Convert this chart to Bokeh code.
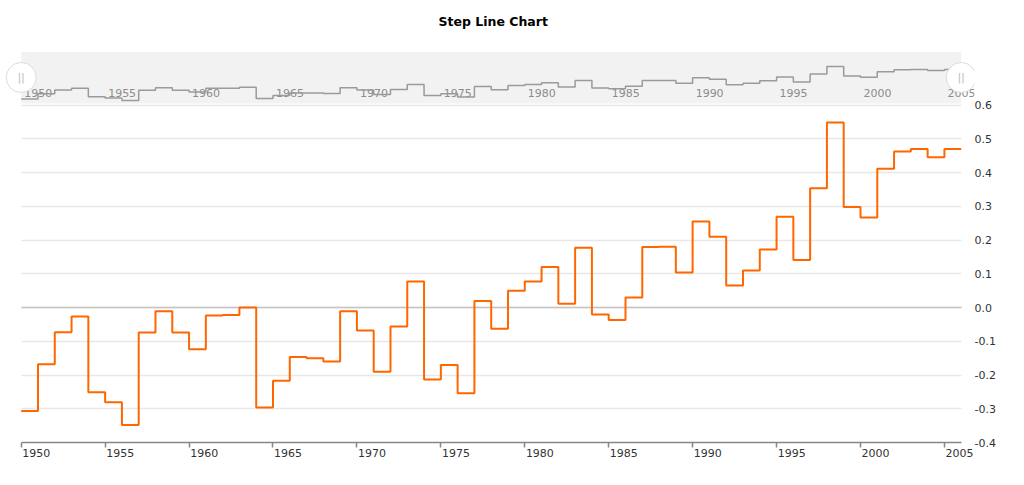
from bokeh.plotting import figure
from bokeh.models import (Range1d, FixedTicker, CustomJSTickFormatter, BoxAnnotation,
                          Title, Grid, PrintfTickFormatter)
from bokeh.core.properties import value
from bokeh.embed import file_html
from bokeh.resources import INLINE

# ---- data ----
years = list(range(1950, 2006))
values = [-0.307, -0.168, -0.073, -0.027, -0.251, -0.281, -0.348, -0.074, -0.011, -0.074,
          -0.124, -0.024, -0.022, 0.0, -0.296, -0.217, -0.147, -0.150, -0.160, -0.011,
          -0.068, -0.190, -0.056, 0.077, -0.213, -0.170, -0.254, 0.019, -0.063, 0.050,
          0.077, 0.120, 0.011, 0.177, -0.021, -0.037, 0.030, 0.179, 0.180, 0.104,
          0.255, 0.210, 0.065, 0.110, 0.172, 0.269, 0.141, 0.353, 0.548, 0.298,
          0.267, 0.411, 0.462, 0.470, 0.445, 0.470]
tick_years = list(range(1950, 2006, 5))
tick_labels = [str(y) for y in tick_years]
y_ticks = [round(i * 0.1, 1) for i in range(-4, 7)]

FONT = "DejaVu Sans"
x_end = years[-1] + 1
step_x = years + [x_end]
step_y = values + [values[-1]]

# ---- layout constants (pixels) ----
plot_px = 940.0                       # width of the data area (1950..2006)
x_ppu = plot_px / (x_end - years[0])  # px per year
pad_left_px, pad_right_px = 18.7, 13.3
frame_w = int(round(plot_px + pad_left_px + pad_right_px))
x_start = years[0] - pad_left_px / x_ppu
x_stop = x_start + frame_w / x_ppu

y_lo = -0.4
y_ppu = 337.5
frame_h = 391

p = figure(frame_width=frame_w, frame_height=frame_h,
           x_range=Range1d(x_start, x_stop),
           y_range=Range1d(y_lo, y_lo + frame_h / y_ppu),
           y_axis_location="right",
           output_backend="svg", toolbar_location=None,
           min_border_left=2, min_border_top=51, min_border_right=5, min_border_bottom=5)

# scrollbar mapping: -0.4 -> 340px above chart bottom, 37.95 px/unit
sc_ppu = 37.95
sc_lo = y_lo - 340 / sc_ppu
sc_hi = sc_lo + frame_h / sc_ppu
p.extra_y_ranges = {"scroll": Range1d(sc_lo, sc_hi)}

p.outline_line_color = None
p.background_fill_color = "white"
p.border_fill_color = "white"

# spacer between the title and the chart area, then the title
p.add_layout(Title(text=" ", text_font_size="1px", standoff=18), "above")
p.add_layout(Title(text="Step Line Chart", align="left", offset=436,
                   vertical_align="top", standoff=0,
                   text_font_size="12.5px", text_font=FONT, text_font_style="bold",
                   text_color="#000000"), "above")

# x axis (bounded to the data area)
xa = p.xaxis[0]
xa.bounds = (years[0], x_end)
xa.ticker = FixedTicker(ticks=[y + 0.9 for y in tick_years], minor_ticks=tick_years)
xa.formatter = CustomJSTickFormatter(code="return Math.floor(tick).toString();")
xa.major_tick_line_color = None
xa.major_tick_out = 0
xa.major_tick_in = 0
xa.minor_tick_out = 5
xa.minor_tick_in = 0
xa.minor_tick_line_color = "#888888"
xa.minor_tick_line_width = 1.5
xa.axis_line_color = "#888888"
xa.axis_line_width = 1.5
xa.major_label_standoff = 1
xa.major_label_text_font = FONT
xa.major_label_text_font_size = "11px"
xa.major_label_text_color = "#333333"
p.xgrid.visible = False

# y axis on the right (labels only)
ya = p.yaxis[0]
ya.ticker = FixedTicker(ticks=y_ticks)
ya.formatter = PrintfTickFormatter(format="%.1f")
ya.axis_line_color = None
ya.major_tick_line_color = None
ya.minor_tick_line_color = None
ya.major_tick_out = 0
ya.major_tick_in = 0
ya.major_label_standoff = 0
ya.major_label_text_font = FONT
ya.major_label_text_font_size = "11px"
ya.major_label_text_color = "#333333"
p.ygrid.visible = False

# horizontal grid lines limited to the data area
p.add_layout(Grid(dimension=1, ticker=FixedTicker(ticks=y_ticks),
                  cross_bounds=(years[0], x_end),
                  grid_line_color="#e8e8e8", grid_line_width=1.5))
p.add_layout(Grid(dimension=1, ticker=FixedTicker(ticks=[0.0]),
                  cross_bounds=(years[0], x_end),
                  grid_line_color="#c4c4c4", grid_line_width=1.5))

# scrollbar background
sc_bottom = y_lo - 1.0 / sc_ppu
p.add_layout(BoxAnnotation(left=years[0], right=x_end, bottom=sc_bottom,
                           fill_color="#f2f2f2", fill_alpha=1.0, line_color=None,
                           y_range_name="scroll", level="underlay"))

# scrollbar labels + graph
p.text(x=tick_years, y=[y_lo] * len(tick_years), text=tick_labels, y_range_name="scroll",
       text_font=value(FONT), text_font_size="11px", text_color="#8c8c8c",
       text_align="left", text_baseline="middle", x_offset=3, y_offset=-10)
p.step(x=step_x, y=step_y, mode="after", y_range_name="scroll",
       line_color="#9a9a9a", line_width=1.5)

# main series
p.step(x=step_x, y=step_y, mode="after", line_color="#FF6600", line_width=2)

# scrollbar grips
grip_y = (sc_bottom + sc_hi) / 2
gx = [years[0], x_end]
p.scatter(x=gx, y=[grip_y, grip_y], y_range_name="scroll", size=30,
          marker="circle", fill_color="white", line_color="#dcdcdc", line_width=1)
p.text(x=gx, y=[grip_y, grip_y], text=["||", "||"], y_range_name="scroll",
       text_font=value(FONT), text_font_size="10px", text_color="#b5b5b5",
       text_align="center", text_baseline="middle")

open("out.html", "w").write(file_html(p, INLINE))
